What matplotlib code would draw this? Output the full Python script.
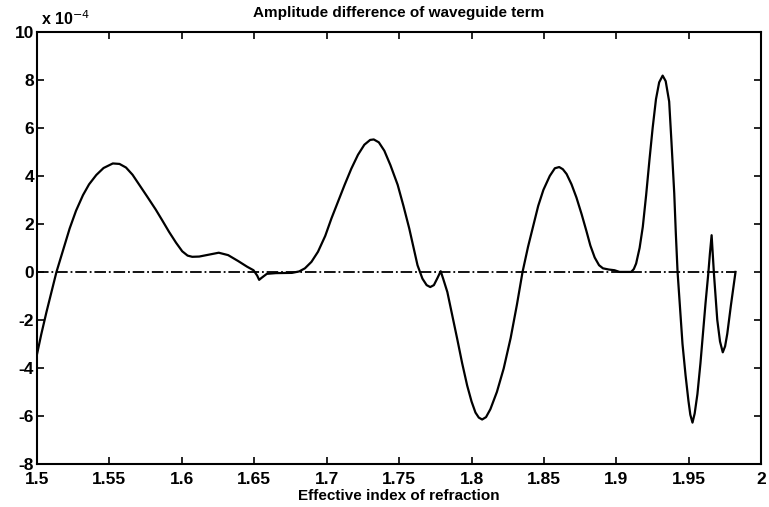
import matplotlib
matplotlib.use("Agg")
import matplotlib.pyplot as plt
from matplotlib.ticker import FixedLocator, FixedFormatter

plt.rcParams['font.family'] = ['Liberation Sans', 'DejaVu Sans']

# Effective index of refraction (x) and amplitude difference (y, in units of 1e-4)
n_eff = [1.5000, 1.5030, 1.5066, 1.5100, 1.5135, 1.5170, 1.5200, 1.5226, 1.5270,
         1.5318, 1.5360, 1.5410, 1.5460, 1.5524, 1.5570, 1.5615, 1.5660, 1.5707,
         1.5760, 1.5820, 1.5865, 1.5912, 1.5960, 1.6003, 1.6040, 1.6072, 1.6120,
         1.6186, 1.6255, 1.6320, 1.6390, 1.6450, 1.6495, 1.6520, 1.6534, 1.6550,
         1.6587, 1.6650, 1.6760, 1.6810, 1.6850, 1.6895, 1.6940, 1.6990, 1.7033,
         1.7080, 1.7124, 1.7170, 1.7216, 1.7260, 1.7300, 1.7325, 1.7360, 1.7398,
         1.7440, 1.7490, 1.7530, 1.7570, 1.7600, 1.7627, 1.7661, 1.7690, 1.7715,
         1.7740, 1.7765, 1.7787, 1.7805, 1.7833, 1.7865, 1.7901, 1.7935, 1.7970,
         1.8000, 1.8027, 1.8050, 1.8073, 1.8100, 1.8130, 1.8175, 1.8222, 1.8270,
         1.8313, 1.8352, 1.8390, 1.8427, 1.8460, 1.8496, 1.8540, 1.8575, 1.8605,
         1.8630, 1.8656, 1.8690, 1.8724, 1.8760, 1.8793, 1.8820, 1.8850, 1.8880,
         1.8907, 1.8947, 1.8987, 1.9021, 1.9102, 1.9120, 1.9136, 1.9160, 1.9182,
         1.9205, 1.9228, 1.9250, 1.9273, 1.9295, 1.9319, 1.9340, 1.9364, 1.9380,
         1.9399, 1.9410, 1.9422, 1.9440, 1.9456, 1.9477, 1.9497, 1.9510, 1.9525,
         1.9540, 1.9559, 1.9580, 1.9597, 1.9615, 1.9634, 1.9645, 1.9657, 1.9665,
         1.9673, 1.9685, 1.9696, 1.9715, 1.9734, 1.9750, 1.9765, 1.9790, 1.9822]
amp_diff = [-3.45, -2.60, -1.67, -0.85, 0.00, 0.70, 1.30, 1.81, 2.55,
            3.20, 3.65, 4.04, 4.33, 4.52, 4.50, 4.35, 4.05, 3.63,
            3.15, 2.60, 2.15, 1.67, 1.22, 0.86, 0.68, 0.63, 0.64,
            0.72, 0.80, 0.70, 0.45, 0.22, 0.07, -0.15, -0.33, -0.25,
            -0.08, -0.05, -0.04, 0.02, 0.15, 0.42, 0.84, 1.50, 2.23,
            2.95, 3.63, 4.30, 4.88, 5.30, 5.50, 5.52, 5.40, 5.05,
            4.45, 3.63, 2.75, 1.81, 1.00, 0.28, -0.28, -0.55, -0.63,
            -0.55, -0.25, 0.03, -0.30, -0.84, -1.75, -2.79, -3.80, -4.74,
            -5.40, -5.86, -6.07, -6.15, -6.05, -5.72, -5.00, -4.02, -2.75,
            -1.37, 0.00, 1.05, 1.95, 2.75, 3.42, 4.00, 4.32, 4.37,
            4.28, 4.08, 3.65, 3.10, 2.40, 1.70, 1.10, 0.60, 0.28,
            0.15, 0.10, 0.07, 0.00, 0.00, 0.12, 0.35, 1.00, 1.88,
            3.20, 4.67, 6.00, 7.20, 7.90, 8.18, 7.95, 7.10, 5.40,
            3.28, 1.60, 0.00, -1.60, -3.00, -4.30, -5.37, -5.95, -6.28,
            -5.90, -5.09, -3.80, -2.58, -1.30, -0.07, 0.75, 1.53, 0.70,
            -0.07, -1.10, -2.00, -2.90, -3.35, -3.10, -2.58, -1.40, 0.00]

zero_x = [1.5, 1.9822]
zero_y = [0.0, 0.0]

x_ticks = [1.5, 1.55, 1.6, 1.65, 1.7, 1.75, 1.8, 1.85, 1.9, 1.95, 2.0]
x_tick_labels = ['1.5', '1.55', '1.6', '1.65', '1.7', '1.75', '1.8', '1.85', '1.9', '1.95', '2']
y_ticks = [-8, -6, -4, -2, 0, 2, 4, 6, 8, 10]
y_tick_labels = ['-8', '-6', '-4', '-2', '0', '2', '4', '6', '8', '10']

fig = plt.figure(figsize=(7.69, 5.07), dpi=100)
ax = fig.add_axes([0.048, 0.085, 0.942, 0.852])

ax.plot(zero_x, zero_y, color='black', linestyle='-.', linewidth=1.3)
ax.plot(n_eff, amp_diff, color='black', linestyle='-', linewidth=1.6)

ax.set_xlim(1.5, 2.0)
ax.set_ylim(-8, 10)
ax.xaxis.set_major_locator(FixedLocator(x_ticks))
ax.xaxis.set_major_formatter(FixedFormatter(x_tick_labels))
ax.yaxis.set_major_locator(FixedLocator(y_ticks))
ax.yaxis.set_major_formatter(FixedFormatter(y_tick_labels))
ax.tick_params(direction='in', top=True, right=True, length=5, width=1.2,
               labelsize=12.5)
ax.tick_params(axis='x', pad=6)
ax.tick_params(axis='y', pad=2)
for lab in ax.get_xticklabels() + ax.get_yticklabels():
    lab.set_fontweight('bold')
for sp in ax.spines.values():
    sp.set_linewidth(1.5)
    sp.set_color('black')

ax.set_title('Amplitude difference of waveguide term', fontsize=11,
             fontweight='bold', pad=11)
ax.set_xlabel('Effective index of refraction', fontsize=11, fontweight='bold',
              labelpad=1)
ax.text(0.005, 1.008, r'x 10$^{-4}$', transform=ax.transAxes, fontsize=11.5,
        fontweight='bold', va='bottom', ha='left')

fig.savefig('out.png', dpi=100)
